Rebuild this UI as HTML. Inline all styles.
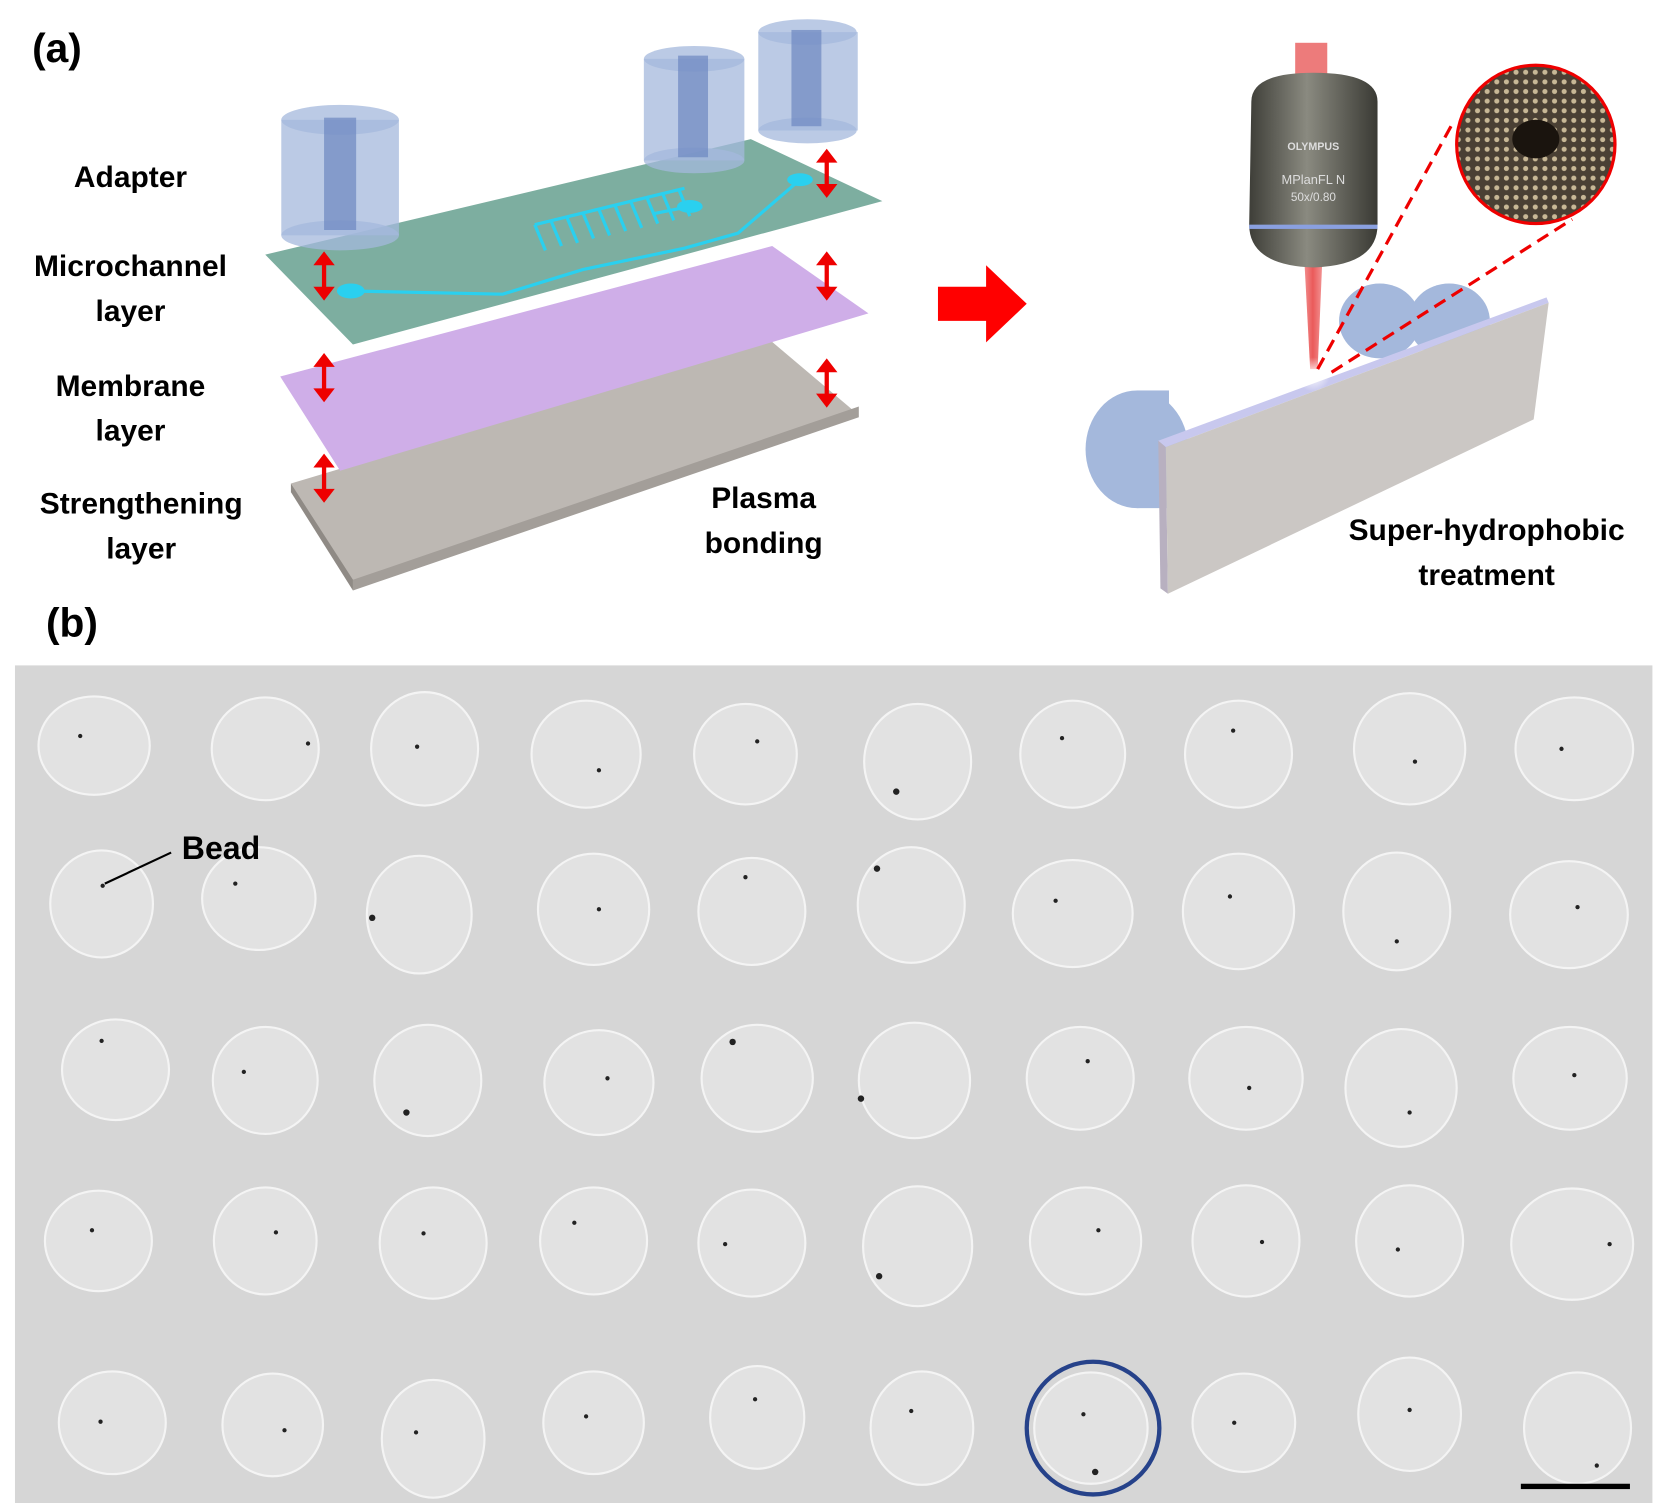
<!DOCTYPE html>
<html><head><meta charset="utf-8"><style>
html,body{margin:0;padding:0;background:#fff;}
svg{display:block;}
text{font-family:"Liberation Sans",sans-serif;font-weight:bold;fill:#000;}
</style></head><body>
<svg width="1677" height="1503" viewBox="0 0 1568 1405" preserveAspectRatio="none" xmlns="http://www.w3.org/2000/svg">
<defs>
<linearGradient id="obj" x1="0" x2="1"><stop offset="0" stop-color="#3e3e38"/><stop offset="0.45" stop-color="#8a8a80"/><stop offset="1" stop-color="#3a3a34"/></linearGradient>
<linearGradient id="beam" x1="0" x2="1"><stop offset="0" stop-color="#f4a0a0"/><stop offset="0.5" stop-color="#e84848"/><stop offset="1" stop-color="#f4a0a0"/></linearGradient>
<pattern id="dots" width="9" height="9" patternUnits="userSpaceOnUse"><rect width="9" height="9" fill="#4a4034"/><circle cx="4.5" cy="4.5" r="2.4" fill="#c8b896"/></pattern>
<radialGradient id="glow"><stop offset="0" stop-color="#fff"/><stop offset="1" stop-color="#fff" stop-opacity="0"/></radialGradient>
<g id="da" fill="#e00" stroke="#e00"><line x1="0" y1="-12" x2="0" y2="12" stroke-width="4"/><polygon points="-10,-10 10,-10 0,-23" stroke="none"/><polygon points="-10,10 10,10 0,23" stroke="none"/></g>
</defs>
<!-- panel a labels -->
<text x="30" y="58" font-size="38">(a)</text>
<text x="122" y="175" font-size="28" text-anchor="middle">Adapter</text>
<text x="122" y="258" font-size="28" text-anchor="middle">Microchannel</text>
<text x="122" y="300" font-size="28" text-anchor="middle">layer</text>
<text x="122" y="370" font-size="28" text-anchor="middle">Membrane</text>
<text x="122" y="412" font-size="28" text-anchor="middle">layer</text>
<text x="132" y="480" font-size="28" text-anchor="middle">Strengthening</text>
<text x="132" y="522" font-size="28" text-anchor="middle">layer</text>
<text x="714" y="475" font-size="28" text-anchor="middle">Plasma</text>
<text x="714" y="517" font-size="28" text-anchor="middle">bonding</text>
<!-- layers -->
<polygon points="272,452 720,318 803,388 330,550" fill="#bdb8b3"/>
<polygon points="272,452 330,542 330,552 272,460" fill="#8f8a85"/>
<polygon points="330,542 803,380 803,390 330,552" fill="#a39e99"/>
<polygon points="262,352 722,230 812,293 318,440" fill="#cfaee8"/>
<polygon points="248,238 702,130 825,188 330,322" fill="#7daea0"/>
<!-- microchannel -->
<g stroke="#2ad0ef" stroke-width="3" fill="none">
<polyline points="328,272 470,275 545,252 640,232 690,218 748,168"/>
<path d="M500,210 l10,24 M515,206 l10,24 M530,203 l10,24 M545,199 l10,24 M560,196 l10,24 M575,192 l10,24 M590,189 l10,24 M605,185 l10,24 M620,182 l10,24 M635,178 l10,24 M500,210 L640,176"/>
<line x1="610" y1="200" x2="645" y2="193"/>
</g>
<ellipse cx="328" cy="272" rx="13" ry="7" fill="#2ad0ef"/>
<ellipse cx="645" cy="193" rx="12" ry="6" fill="#2ad0ef"/>
<ellipse cx="748" cy="168" rx="12" ry="6" fill="#2ad0ef"/>
<!-- adapters -->
<g fill="#a4b8dc" fill-opacity="0.75">
<rect x="263" y="112" width="110" height="108"/><ellipse cx="318" cy="112" rx="55" ry="14"/><ellipse cx="318" cy="220" rx="55" ry="14"/>
<rect x="602" y="55" width="94" height="95"/><ellipse cx="649" cy="55" rx="47" ry="12"/><ellipse cx="649" cy="150" rx="47" ry="12"/>
<rect x="709" y="30" width="93" height="92"/><ellipse cx="755" cy="30" rx="46" ry="12"/><ellipse cx="755" cy="122" rx="46" ry="12"/>
</g>
<g fill="#6c88c0" fill-opacity="0.7">
<rect x="303" y="110" width="30" height="105"/><rect x="634" y="52" width="28" height="95"/><rect x="740" y="28" width="28" height="90"/>
</g>
<!-- red double arrows -->
<use href="#da" x="303" y="258"/><use href="#da" x="303" y="353"/><use href="#da" x="303" y="447"/>
<use href="#da" x="773" y="162"/><use href="#da" x="773" y="258"/><use href="#da" x="773" y="358"/>
<!-- big arrow -->
<polygon points="877,268 922,268 922,248 960,284 922,320 922,300 877,300" fill="#f00"/>
<!-- right scene -->
<ellipse cx="1063" cy="420" rx="48" ry="55" fill="#a4b8dc"/>
<rect x="1063" y="365" width="30" height="110" fill="#a4b8dc"/>
<ellipse cx="1290" cy="300" rx="38" ry="35" fill="#a4b8dc"/>
<ellipse cx="1355" cy="300" rx="38" ry="35" fill="#a4b8dc"/>
<polygon points="1083,412 1446,278 1448,283 1090,418" fill="#c8c8ee"/>
<polygon points="1083,412 1090,418 1092,555 1085,550" fill="#b8b0c0"/>
<polygon points="1090,418 1448,283 1434,392 1092,555" fill="#cbc7c4"/>
<polygon points="1215,158 1240,158 1232,345 1225,345" fill="url(#beam)" opacity="0.9"/>
<rect x="1211" y="40" width="30" height="40" fill="#e85a5a" opacity="0.8"/>
<path d="M1170,95 Q1170,68 1228,68 Q1288,68 1288,95 L1288,210 Q1288,248 1228,250 Q1168,248 1168,210 Z" fill="url(#obj)"/>
<rect x="1168" y="210" width="120" height="4" fill="#8aa0e0"/>
<text x="1228" y="140" font-size="10" text-anchor="middle" style="fill:#ddd">OLYMPUS</text>
<text x="1228" y="172" font-size="12" text-anchor="middle" style="fill:#ddd;font-weight:normal">MPlanFL N</text>
<text x="1228" y="188" font-size="11" text-anchor="middle" style="fill:#ddd;font-weight:normal">50x/0.80</text>
<circle cx="1228" cy="350" r="16" fill="url(#glow)"/>
<g stroke="#e00" stroke-width="3" stroke-dasharray="12,7" fill="none">
<line x1="1232" y1="345" x2="1360" y2="112"/><line x1="1245" y1="348" x2="1470" y2="205"/>
</g>
<circle cx="1436" cy="135" r="74" fill="url(#dots)" stroke="#e00" stroke-width="3"/>
<ellipse cx="1436" cy="130" rx="22" ry="18" fill="#1a140e"/>
<text x="1390" y="505" font-size="28" text-anchor="middle">Super-hydrophobic</text>
<text x="1390" y="547" font-size="28" text-anchor="middle">treatment</text>
<!-- panel b -->
<text x="43" y="595" font-size="38">(b)</text>
<rect x="14" y="622" width="1531" height="783" fill="#d6d6d6"/>
<g fill="#e2e2e2" stroke="#f4f4f4" stroke-width="2">
<ellipse cx="88" cy="697" rx="52" ry="46"/><ellipse cx="248" cy="700" rx="50" ry="48"/><ellipse cx="397" cy="700" rx="50" ry="53"/><ellipse cx="548" cy="705" rx="51" ry="50"/><ellipse cx="697" cy="705" rx="48" ry="47"/><ellipse cx="858" cy="712" rx="50" ry="54"/><ellipse cx="1003" cy="705" rx="49" ry="50"/><ellipse cx="1158" cy="705" rx="50" ry="50"/><ellipse cx="1318" cy="700" rx="52" ry="52"/><ellipse cx="1472" cy="700" rx="55" ry="48"/>
<ellipse cx="95" cy="845" rx="48" ry="50"/><ellipse cx="242" cy="840" rx="53" ry="48"/><ellipse cx="392" cy="855" rx="49" ry="55"/><ellipse cx="555" cy="850" rx="52" ry="52"/><ellipse cx="703" cy="852" rx="50" ry="50"/><ellipse cx="852" cy="846" rx="50" ry="54"/><ellipse cx="1003" cy="854" rx="56" ry="50"/><ellipse cx="1158" cy="852" rx="52" ry="54"/><ellipse cx="1306" cy="852" rx="50" ry="55"/><ellipse cx="1467" cy="855" rx="55" ry="50"/>
<ellipse cx="108" cy="1000" rx="50" ry="47"/><ellipse cx="248" cy="1010" rx="49" ry="50"/><ellipse cx="400" cy="1010" rx="50" ry="52"/><ellipse cx="560" cy="1012" rx="51" ry="49"/><ellipse cx="708" cy="1008" rx="52" ry="50"/><ellipse cx="855" cy="1010" rx="52" ry="54"/><ellipse cx="1010" cy="1008" rx="50" ry="48"/><ellipse cx="1165" cy="1008" rx="53" ry="48"/><ellipse cx="1310" cy="1017" rx="52" ry="55"/><ellipse cx="1468" cy="1008" rx="53" ry="48"/>
<ellipse cx="92" cy="1160" rx="50" ry="47"/><ellipse cx="248" cy="1160" rx="48" ry="50"/><ellipse cx="405" cy="1162" rx="50" ry="52"/><ellipse cx="555" cy="1160" rx="50" ry="50"/><ellipse cx="703" cy="1162" rx="50" ry="50"/><ellipse cx="858" cy="1165" rx="51" ry="56"/><ellipse cx="1015" cy="1160" rx="52" ry="50"/><ellipse cx="1165" cy="1160" rx="50" ry="52"/><ellipse cx="1318" cy="1160" rx="50" ry="52"/><ellipse cx="1470" cy="1163" rx="57" ry="52"/>
<ellipse cx="105" cy="1330" rx="50" ry="48"/><ellipse cx="255" cy="1332" rx="47" ry="48"/><ellipse cx="405" cy="1345" rx="48" ry="55"/><ellipse cx="555" cy="1330" rx="47" ry="48"/><ellipse cx="708" cy="1325" rx="44" ry="48"/><ellipse cx="862" cy="1335" rx="48" ry="53"/><ellipse cx="1020" cy="1335" rx="53" ry="52"/><ellipse cx="1163" cy="1330" rx="48" ry="46"/><ellipse cx="1318" cy="1322" rx="48" ry="53"/><ellipse cx="1475" cy="1335" rx="50" ry="52"/>
</g>
<g fill="#222">
<circle cx="75" cy="688" r="2"/><circle cx="288" cy="695" r="2"/><circle cx="390" cy="698" r="2"/><circle cx="560" cy="720" r="2"/><circle cx="708" cy="693" r="2"/><circle cx="838" cy="740" r="3"/><circle cx="993" cy="690" r="2"/><circle cx="1153" cy="683" r="2"/><circle cx="1323" cy="712" r="2"/><circle cx="1460" cy="700" r="2"/>
<circle cx="96" cy="828" r="2"/><circle cx="220" cy="826" r="2"/><circle cx="348" cy="858" r="3"/><circle cx="560" cy="850" r="2"/><circle cx="697" cy="820" r="2"/><circle cx="820" cy="812" r="3"/><circle cx="987" cy="842" r="2"/><circle cx="1150" cy="838" r="2"/><circle cx="1306" cy="880" r="2"/><circle cx="1475" cy="848" r="2"/>
<circle cx="95" cy="973" r="2"/><circle cx="228" cy="1002" r="2"/><circle cx="380" cy="1040" r="3"/><circle cx="568" cy="1008" r="2"/><circle cx="685" cy="974" r="3"/><circle cx="805" cy="1027" r="3"/><circle cx="1017" cy="992" r="2"/><circle cx="1168" cy="1017" r="2"/><circle cx="1318" cy="1040" r="2"/><circle cx="1472" cy="1005" r="2"/>
<circle cx="86" cy="1150" r="2"/><circle cx="258" cy="1152" r="2"/><circle cx="396" cy="1153" r="2"/><circle cx="537" cy="1143" r="2"/><circle cx="678" cy="1163" r="2"/><circle cx="822" cy="1193" r="3"/><circle cx="1027" cy="1150" r="2"/><circle cx="1180" cy="1161" r="2"/><circle cx="1307" cy="1168" r="2"/><circle cx="1505" cy="1163" r="2"/>
<circle cx="94" cy="1329" r="2"/><circle cx="266" cy="1337" r="2"/><circle cx="389" cy="1339" r="2"/><circle cx="548" cy="1324" r="2"/><circle cx="706" cy="1308" r="2"/><circle cx="852" cy="1319" r="2"/><circle cx="1013" cy="1322" r="2"/><circle cx="1024" cy="1376" r="3"/><circle cx="1154" cy="1330" r="2"/><circle cx="1318" cy="1318" r="2"/><circle cx="1493" cy="1370" r="2"/>
</g>
<line x1="98" y1="826" x2="160" y2="797" stroke="#000" stroke-width="2"/>
<text x="170" y="803" font-size="30">Bead</text>
<circle cx="1022" cy="1335" r="62" fill="none" stroke="#26428a" stroke-width="4"/>
<rect x="1422" y="1387" width="102" height="5" fill="#000"/>
</svg>
</body></html>
